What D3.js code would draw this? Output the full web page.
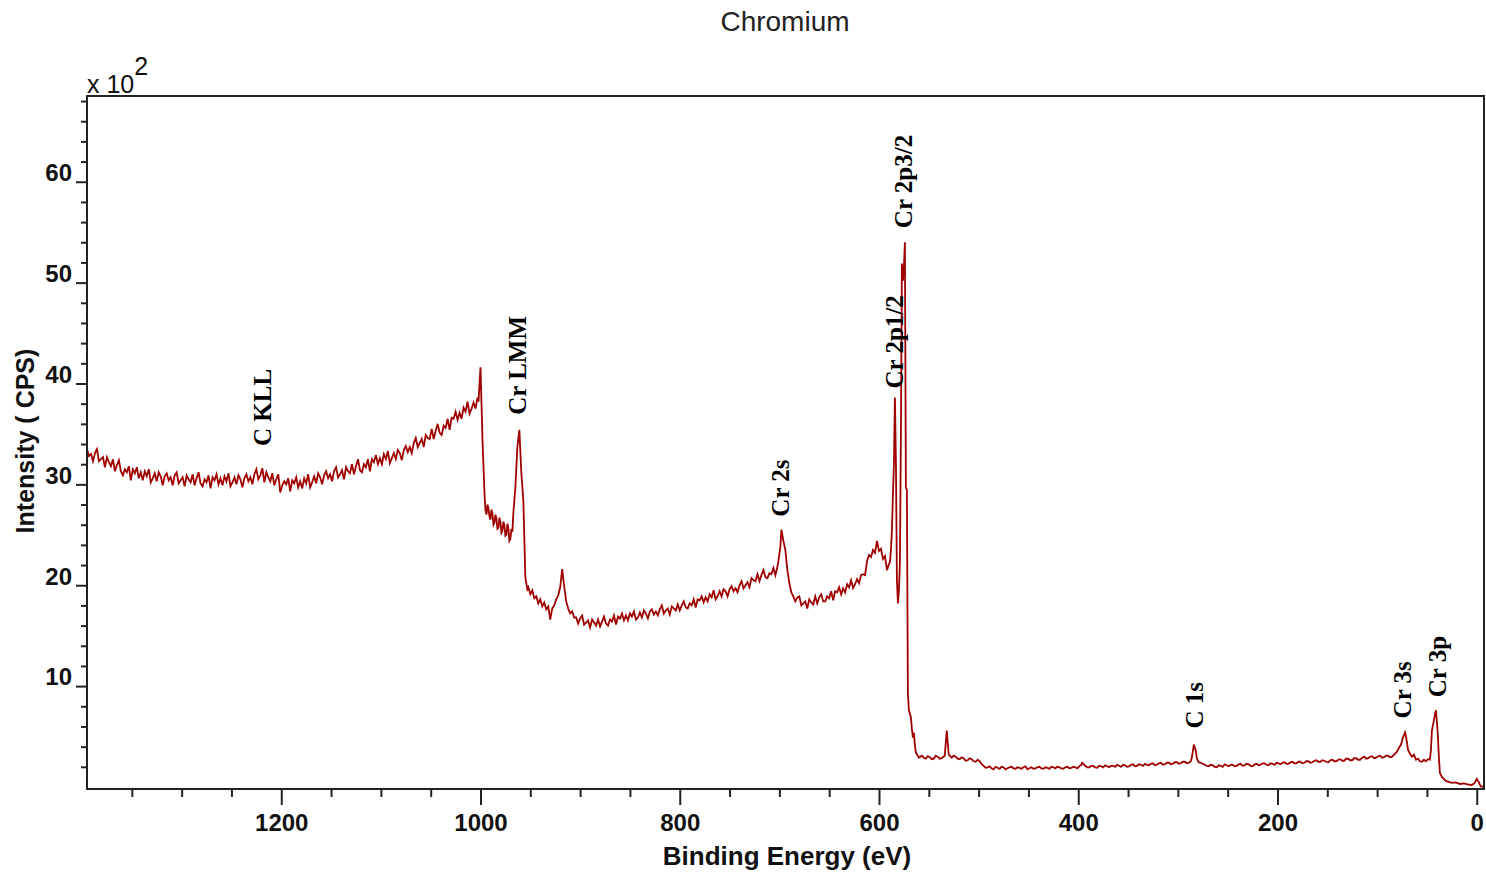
<!DOCTYPE html>
<html>
<head>
<meta charset="utf-8">
<script src="https://cdn.jsdelivr.net/npm/d3@7"></script>
<style>
  body { margin: 0; background: #fff; }
  text { font-family: Arial, "Liberation Sans", sans-serif; }
</style>
</head>
<body>
<svg id="chart" width="1486" height="877"></svg>
<script>
// survey spectrum, [binding energy (eV), intensity (x10^2 CPS)]
const highBE = [[1395,33.5],[1393,32.8],[1391,33.0],[1389,32.3],[1387,33.1],[1385,33.5],[1383,32.3],[1381,32.5],[1379,32.7],[1377,31.7],
  [1375,32.7],[1373,32.2],[1371,31.8],[1369,32.5],[1367,31.3],[1365,31.9],[1363,32.4],[1361,31.3],[1359,30.9],[1357,31.5],
  [1355,31.2],[1353,31.8],[1351,30.4],[1349,31.5],[1347,31.1],[1345,31.7],[1343,30.6],[1341,31.2],[1339,30.4],[1337,31.3],
  [1335,30.8],[1333,31.5],[1331,30.2],[1329,30.6],[1327,31.1],[1325,30.3],[1323,31.2],[1321,30.8],[1319,29.9],[1317,30.8],
  [1315,31.1],[1313,30.4],[1311,30.7],[1309,29.9],[1307,30.9],[1305,31.2],[1303,30.1],[1301,30.4],[1299,30.7],[1297,29.8],
  [1295,30.9],[1293,30.5],[1291,30.2],[1289,31.0],[1287,29.9],[1285,30.6],[1283,31.2],[1281,30.1],[1279,29.8],[1277,30.5],
  [1275,30.2],[1273,30.9],[1271,29.6],[1269,30.7],[1267,30.4],[1265,31.0],[1263,30.0],[1261,30.6],[1259,29.9],[1257,30.8],
  [1255,30.3],[1253,31.1],[1251,29.8],[1249,30.2],[1247,30.7],[1245,30.0],[1243,30.9],[1241,30.5],[1239,29.7],[1237,30.6],
  [1235,31.0],[1233,30.3],[1231,30.7],[1229,30.0],[1227,31.0],[1225,31.5],[1223,30.5],[1221,30.9],[1219,31.6],[1217,30.2],
  [1215,31.2],[1213,30.7],[1211,30.3],[1209,31.1],[1207,29.9],[1205,30.5],[1203,31.0],[1201,29.2],[1199,29.9],[1197,30.3],
  [1195,30.0],[1193,30.6],[1191,29.3],[1189,30.4],[1187,30.1],[1185,30.7],[1183,29.7],[1181,30.3],[1179,29.6],[1177,30.6],
  [1175,30.1],[1173,31.0],[1171,29.7],[1169,30.2],[1167,30.8],[1165,30.1],[1163,31.1],[1161,30.7],[1159,30.0],[1157,30.9],
  [1155,31.3],[1153,30.6],[1151,31.0],[1149,30.3],[1147,31.3],[1145,31.7],[1143,30.7],[1141,31.0],[1139,31.4],[1137,30.5],
  [1135,31.7],[1133,31.3],[1131,31.1],[1129,32.0],[1127,31.0],[1125,31.8],[1123,32.5],[1121,31.4],[1119,31.2],[1117,32.0],
  [1115,31.7],[1113,32.5],[1111,31.3],[1109,32.5],[1107,32.2],[1105,32.9],[1103,32.0],[1101,32.6],[1099,32.0],[1097,33.0],
  [1095,32.5],[1093,33.3],[1091,32.1],[1089,32.6],[1087,33.1],[1085,32.5],[1083,33.4],[1081,33.1],[1079,32.4],[1077,33.4],
  [1075,33.8],[1073,33.2],[1071,33.7],[1069,33.1],[1067,34.1],[1065,34.6],[1063,33.7],[1061,34.1],[1059,34.5],[1057,33.7],
  [1055,34.9],[1053,34.6],[1051,34.5],[1049,35.5],[1047,34.5],[1045,35.3],[1043,36.0],[1041,35.1],[1039,34.9],[1037,35.8],
  [1035,35.6],[1033,36.5],[1031,35.4],[1029,36.6],[1027,36.5],[1025,37.2],[1023,36.4],[1021,37.1],[1019,36.5],[1017,37.6],
  [1015,37.2],[1013,38.2],[1011,37.0],[1009,37.5],[1007,38.1],[1005,37.5],[1003,38.6],[1002,38.2]];

const auger = [[1000,41.6],[999,38.0],[998,34.4],[996,29.1],[995,27.4],[994,27.0],[993,28.0],[992,27.6],[991,26.8],[990,26.5],
  [989,27.5],[988,27.1],[987,26.0],[986,26.2],[985,27.0],[984,26.6],[983,25.6],[982,25.7],[981,26.7],[980,26.3],
  [979,25.2],[978,25.4],[977,26.3],[976,25.9],[975,24.9],[974,25.0],[973,26.1],[972,25.6],[971,24.4],[970,24.6],
  [969,25.6],[968,25.3],[967,27.2],[965,29.7],[963,33.7],[961,35.4],[959,31.1],[957,28.4],[955,20.8],[953,19.6],
  [952,19.8],[950,19.1],[948,19.5],[946,18.7],[944,18.9],[942,18.2],[940,18.6],[938,17.9],[936,18.3],[934,17.6],
  [932,17.9],[930,16.6],[928,17.7],[926,18.0],[924,18.6],[922,19.0],[920,19.8],[918,21.6],[916,19.9],[914,18.4],
  [912,17.7],[910,17.2]];

const midBE = [[908,17.4],[906,16.8],[904,16.8],[902,16.2],[900,16.7],[898,17.0],[896,16.1],[894,16.3],[892,16.5],[890,15.8],
  [888,16.6],[886,16.3],[884,16.0],[882,16.6],[880,15.9],[878,16.4],[876,16.9],[874,16.2],[872,16.0],[870,16.6],
  [868,16.4],[866,17.0],[864,16.1],[862,16.9],[860,16.7],[858,17.2],[856,16.5],[854,17.0],[852,16.5],[850,17.2],
  [848,16.9],[846,17.4],[844,16.6],[842,16.8],[840,17.3],[838,16.8],[836,17.5],[834,17.2],[832,16.7],[830,17.4],
  [828,17.6],[826,17.1],[824,17.4],[822,17.0],[820,17.6],[818,18.0],[816,17.2],[814,17.5],[812,17.7],[810,17.1],
  [808,17.9],[806,17.7],[804,17.5],[802,18.1],[800,17.5],[798,18.0],[796,18.4],[794,17.8],[792,17.7],[790,18.2],
  [788,18.0],[786,18.6],[784,17.8],[782,18.6],[780,18.5],[778,18.9],[776,18.3],[774,18.8],[772,18.4],[770,19.1],
  [768,18.8],[766,19.5],[764,18.6],[762,18.9],[760,19.4],[758,18.9],[756,19.6],[754,19.4],[752,18.9],[750,19.6],
  [748,19.9],[746,19.4],[744,19.7],[742,19.3],[740,20.0],[738,20.4],[736,19.7],[734,20.0],[732,20.3],[730,19.8],
  [728,20.7],[726,20.5],[724,20.4],[722,21.1],[720,20.4],[718,21.0],[716,21.5],[714,20.8],[712,20.7],[710,21.2],
  [708,21.1],[706,21.7],[704,21.0],[702,21.8],[701,22.4],[699,23.8],[698,25.5],[697,25.0],[696,24.4],[694,23.5],
  [692,21.5],[690,20.2],[688,19.3],[686,18.9],[684,18.4],[682,18.8],[680,18.9],[678,18.0],[676,18.2],[674,18.4],
  [672,17.7],[670,18.6],[668,18.3],[666,18.1],[664,18.9],[662,18.2],[660,18.8],[658,19.1],[656,18.4],[654,18.4],
  [652,18.9],[650,18.7],[648,19.4],[646,18.5],[644,19.4],[642,19.3],[640,19.8],[638,19.1],[636,19.7],[634,19.3],
  [632,20.1],[630,19.8],[628,20.5],[626,19.7],[624,20.1],[622,20.6],[620,20.2],[618,21.0],[616,21.1],[614,21.0],
  [612,22.4],[610,23.0],[608,22.8],[606,23.5],[604,23.2],[602,24.4],[600,23.4],[598,23.6],[596,22.6],[594,22.9],
  [592,21.5],[590,22.1],[589,22.3]];

const cr2p = [[588,23.5],[587,25.5],[586,29.0],[585,32.1],[584,38.6],[583,32.1],[582,20.5],[581,18.2],[580,19.5],[579,22.2],
  [578,35.0],[577,51.9],[576,50.2],[575,51.5],[574,54.0],[573,29.7],[572,29.4],[571,9.3],[570,7.6],[569,7.3],
  [568,6.9],[567,5.8],[566,4.9],[565,5.4],[564,4.2],[563,3.4],[561,3.1],[560,2.9]];

const lowBE = [[557,3.1],[555,2.9],[553,2.8],[551,3.05],[549,2.95],[547,2.75],[545,2.8],[543,3.1],[541,3.0],[539,2.8],
  [537,2.85],[534,3.1],[532,5.6],[530,3.2],[527,2.9],[525,3.1],[523,3.0],[521,2.8],[519,2.75],[517,2.95],
  [515,2.85],[513,2.6],[511,2.65],[509,2.85],[507,2.75],[505,2.55],[503,2.5],[501,2.7],[499,2.55],[497,2.3],
  [495,2.1],[493,1.9],[491,1.95],[489,2.05],[487,1.85],[485,1.75],[483,2.0],[481,1.9],[479,1.8],[477,2.0],
  [475,1.95],[473,1.75],[471,1.85],[469,1.95],[467,2.0],[465,1.85],[463,1.8],[461,1.95],[459,1.9],[457,1.8],
  [455,1.95],[453,2.05],[451,1.75],[449,1.85],[447,1.95],[445,1.8],[443,1.85],[441,1.95],[439,2.0],[437,1.85],
  [435,1.8],[433,1.95],[431,1.9],[429,1.8],[427,2.0],[425,1.95],[423,1.85],[421,2.0],[419,1.95],[417,1.85],
  [415,1.8],[413,1.95],[411,2.0],[409,1.85],[407,1.9],[405,2.0],[403,1.95],[401,1.85],[399,2.05],[397,2.2],
  [396,2.4],[394,2.2],[393,2.1],[391,1.95],[389,1.95],[387,2.1],[385,2.1],[383,1.95],[381,1.9],[379,2.1],
  [377,2.05],[375,1.95],[373,2.15],[371,2.05],[369,1.95],[367,2.1],[365,2.1],[363,2.0],[361,2.2],[359,2.1],
  [357,2.0],[355,2.2],[353,2.15],[351,2.0],[349,2.05],[347,2.2],[345,2.25],[343,2.05],[341,2.1],[339,2.25],
  [337,2.2],[335,2.1],[333,2.3],[331,2.2],[329,2.15],[327,2.3],[325,2.35],[323,2.15],[321,2.2],[319,2.35],
  [317,2.4],[315,2.2],[313,2.25],[311,2.4],[309,2.4],[307,2.25],[305,2.3],[303,2.45],[301,2.45],[299,2.3],
  [297,2.35],[295,2.5],[293,2.5],[291,2.35],[289,2.4],[287,2.55],[286,2.9],[285,3.5],[284,4.2],[283,3.9],
  [282,3.6],[281,2.9],[280,2.6],[279,2.45],[277,2.4],[275,2.3],[273,2.2],[271,2.1],[269,2.05],[267,2.2],
  [265,2.15],[263,2.0],[261,1.95],[259,2.15],[257,2.1],[255,2.0],[253,2.25],[251,2.15],[249,2.05],[247,2.2],
  [245,2.2],[243,2.05],[241,2.1],[239,2.25],[237,2.3],[235,2.1],[233,2.15],[231,2.3],[229,2.25],[227,2.1],
  [225,2.05],[223,2.25],[221,2.3],[219,2.15],[217,2.2],[215,2.35],[213,2.35],[211,2.2],[209,2.15],[207,2.35],
  [205,2.3],[203,2.2],[201,2.4],[199,2.35],[197,2.25],[195,2.4],[193,2.45],[191,2.3],[189,2.3],[187,2.45],
  [185,2.5],[183,2.35],[181,2.35],[179,2.5],[177,2.5],[175,2.35],[173,2.4],[171,2.55],[169,2.55],[167,2.4],
  [165,2.45],[163,2.6],[161,2.65],[159,2.5],[157,2.5],[155,2.65],[153,2.6],[151,2.5],[149,2.45],[147,2.65],
  [145,2.7],[143,2.55],[141,2.55],[139,2.7],[137,2.75],[135,2.6],[133,2.6],[131,2.8],[129,2.8],[127,2.65],
  [125,2.65],[123,2.85],[121,2.85],[119,2.7],[117,2.7],[115,2.9],[113,3.0],[111,2.8],[109,2.85],[107,3.0],
  [105,3.05],[103,2.85],[101,2.9],[99,3.05],[97,3.1],[95,2.9],[93,2.95],[91,3.1],[89,3.1],[87,2.95],
  [85,3.0],[83,3.2],[82,3.3],[80,3.5],[78,3.9],[76,4.2],[74,4.9],[72,5.4],[71,5.0],[70,4.4],
  [69,3.7],[67,3.3],[65,3.0],[63,3.2],[61,2.7],[59,2.8],[57,2.55],[55,2.5],[53,2.7],[51,2.55],
  [49,2.75],[47,2.7],[46,3.6],[45,5.6],[43,6.6],[42,7.2],[41,7.6],[40,6.5],[39,5.1],[38,3.0],
  [37,1.4],[35,1.0],[33,0.8],[31,0.6],[28,0.5],[25,0.4],[21,0.45],[17,0.3],[13,0.35],[9,0.25],
  [5,0.2],[2,0.4],[0,0.8],[-2,0.5],[-4,0.05],[-7,0.0]];

const xTicks = [1200, 1000, 800, 600, 400, 200, 0];
const yTicks = [10, 20, 30, 40, 50, 60];

const peakNames = ["C KLL", "Cr LMM", "Cr 2s", "Cr 2p1/2", "Cr 2p3/2", "C 1s", "Cr 3s", "Cr 3p"];
const peakEnergies = [1218, 962, 698, 584, 575, 283, 74.5, 39];
const labelLevels = [33.8, 36.9, 26.8, 39.5, 55.4, 5.8, 6.8, 8.9];

const spectrum = highBE.concat(auger, midBE, cr2p, lowBE);

const svg = d3.select("#chart");
const axisColor = "#222";

const x = d3.scaleLinear().domain([1395, -7.3]).range([87, 1484]);
const y = d3.scaleLinear().domain([-0.2, 68.5]).range([789, 96]);

svg.append("text")
    .attr("x", 785)
    .attr("y", 31)
    .attr("text-anchor", "middle")
    .style("font-size", "28px")
    .style("fill", "#222")
    .text("Chromium");

// spectrum
svg.append("path")
    .datum(spectrum)
    .attr("d", d3.line().x(d => x(d[0])).y(d => y(d[1])))
    .attr("fill", "none")
    .attr("stroke", "#a00000")
    .attr("stroke-width", 1.8)
    .attr("stroke-linejoin", "miter");

// axes: minor ticks then major ticks with labels
const xMinor = d3.range(50, 1400, 50).filter(v => v % 200 !== 0);
const yMinor = d3.range(2, 69, 2).filter(v => v % 10 !== 0);

const gx = svg.append("g").attr("transform", "translate(0,789)");
gx.append("g").call(d3.axisBottom(x).tickValues(xMinor).tickSize(8).tickSizeOuter(0).tickFormat(""));
gx.append("g").call(d3.axisBottom(x).tickValues(xTicks).tickSize(16).tickSizeOuter(0).tickPadding(9).tickFormat(d3.format("d")));

const gy = svg.append("g").attr("transform", "translate(87,0)");
gy.append("g").call(d3.axisLeft(y).tickValues(yMinor).tickSize(6).tickSizeOuter(0).tickFormat(""));
gy.append("g").call(d3.axisLeft(y).tickValues(yTicks).tickSize(11).tickSizeOuter(0).tickPadding(4).tickFormat(d3.format("d")));

svg.selectAll(".domain").remove();
svg.selectAll(".tick line").attr("stroke", axisColor).attr("stroke-width", 2);
svg.selectAll(".tick text")
    .style("font-family", "Arial, 'Liberation Sans', sans-serif")
    .style("font-size", "24px")
    .style("font-weight", "bold")
    .attr("fill", "#111");
gy.selectAll(".tick text").attr("dy", "-0.05em");

svg.append("rect")
    .attr("x", 87)
    .attr("y", 96)
    .attr("width", 1397)
    .attr("height", 693)
    .attr("fill", "none")
    .attr("stroke", axisColor)
    .attr("stroke-width", 2);

// axis titles
svg.append("text")
    .attr("x", 787)
    .attr("y", 865)
    .attr("text-anchor", "middle")
    .style("font-size", "26px")
    .style("font-weight", "bold")
    .style("fill", "#111")
    .text("Binding Energy (eV)");

svg.append("text")
    .attr("transform", "translate(34,441) rotate(-90)")
    .attr("text-anchor", "middle")
    .style("font-size", "25px")
    .style("font-weight", "bold")
    .style("fill", "#111")
    .text("Intensity ( CPS)");

const mult = svg.append("text")
    .attr("x", 87)
    .attr("y", 93)
    .style("font-size", "25px")
    .style("fill", "#111");
mult.append("tspan").text("x 10");
mult.append("tspan").attr("dy", -18).text("2");

// peak labels
svg.append("g")
    .selectAll("text")
    .data(peakNames)
    .join("text")
    .attr("transform", (d, i) => `translate(${x(peakEnergies[i]) + 8},${y(labelLevels[i])}) rotate(-90)`)
    .style("font-family", "'Times New Roman', 'Liberation Serif', serif")
    .style("font-size", "25px")
    .style("font-weight", "bold")
    .style("fill", "#000")
    .text(d => d);
</script>
</body>
</html>
